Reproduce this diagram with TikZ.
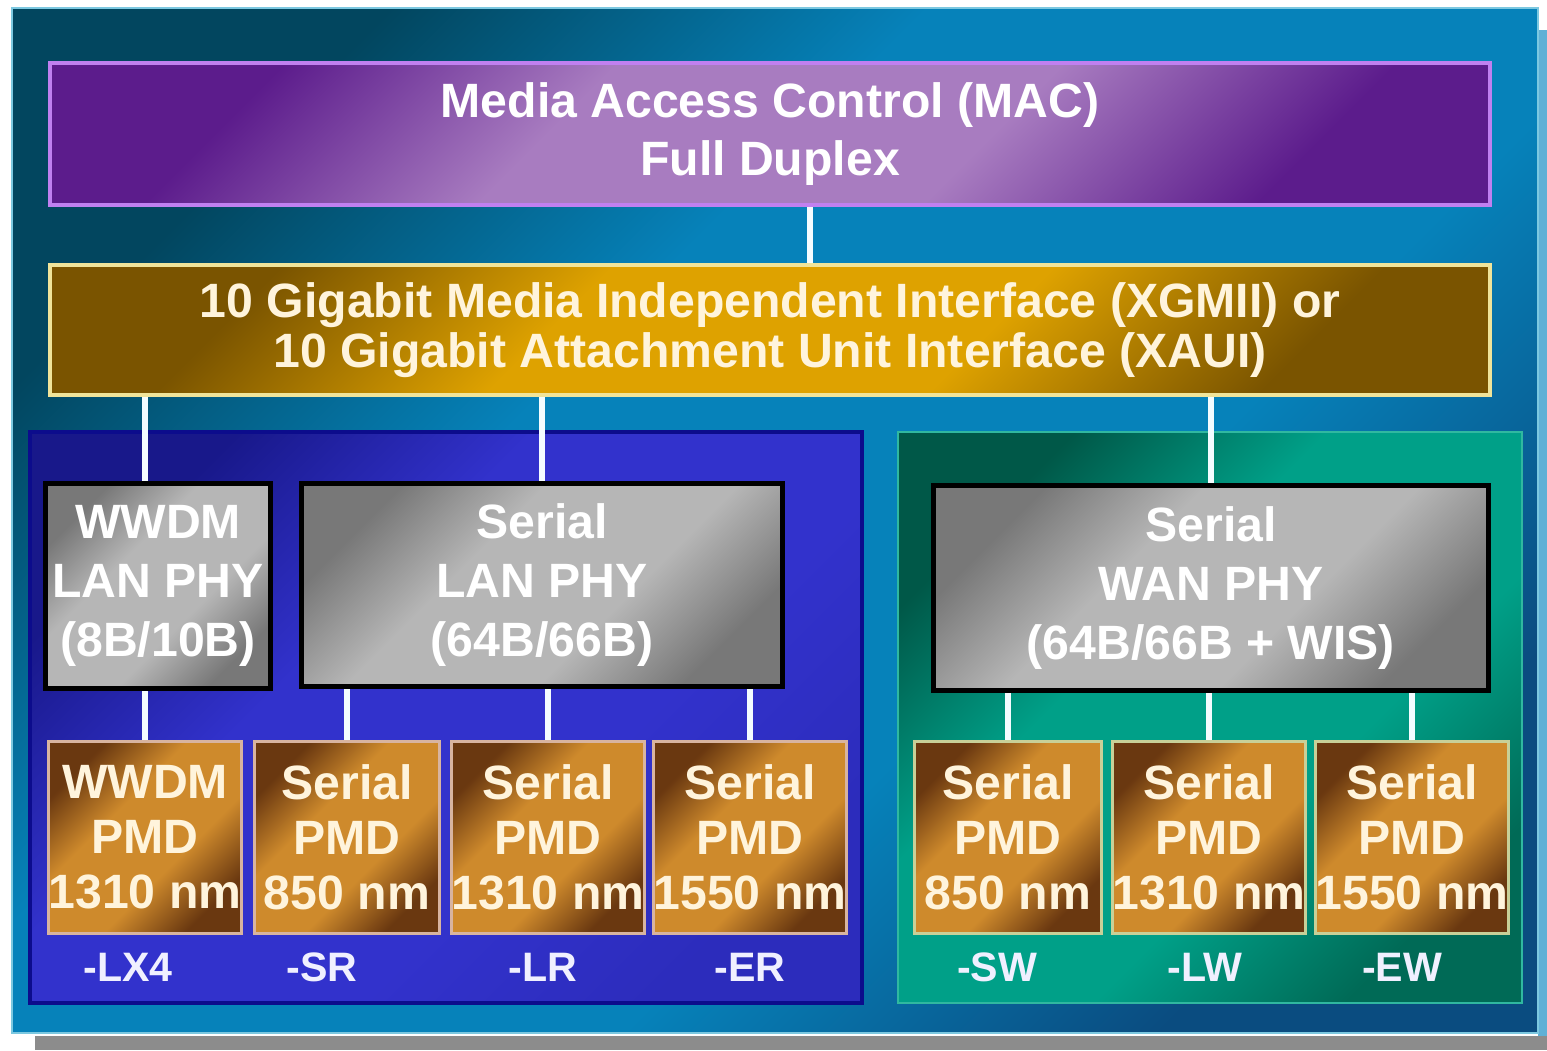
\documentclass[tikz,border=0pt]{standalone}
\usepackage{fontspec}
\setmainfont{Liberation Sans}
\usetikzlibrary{backgrounds}

\definecolor{paneldark}{HTML}{02465F}
\definecolor{panelmid}{HTML}{0682BA}
\definecolor{panellow}{HTML}{0A4C80}
\definecolor{panelrim}{HTML}{7CC8E0}
\definecolor{shadowgray}{HTML}{8C8C8C}
\definecolor{shadowblue}{HTML}{5FB0D6}
\definecolor{macdark}{HTML}{5C1C8C}
\definecolor{maclight}{HTML}{A87CC0}
\definecolor{macrim}{HTML}{C080F0}
\definecolor{golddark}{HTML}{7A5400}
\definecolor{goldmid}{HTML}{DEA200}
\definecolor{goldrim}{HTML}{F0E49A}
\definecolor{landark}{HTML}{18188A}
\definecolor{lanmid}{HTML}{3232CC}
\definecolor{lanlow}{HTML}{2C2CBC}
\definecolor{lanrim}{HTML}{0C0C8C}
\definecolor{wandark}{HTML}{005848}
\definecolor{wanmid}{HTML}{00A088}
\definecolor{wanlow}{HTML}{006A56}
\definecolor{wanrim}{HTML}{30B8A0}
\definecolor{phyedge}{HTML}{787878}
\definecolor{phymid}{HTML}{B6B6B6}
\definecolor{pmdedge}{HTML}{6A3810}
\definecolor{pmdmid}{HTML}{CE8A2C}
\definecolor{lanpmdrim}{HTML}{D8B4A0}
\definecolor{wanpmdrim}{HTML}{C8D098}
\definecolor{creamtext}{HTML}{FFF4DC}
\definecolor{tagtext}{HTML}{F0F0FF}
\definecolor{linkwhite}{HTML}{F4FCFF}

% diagonal glow: dark corners, broad light middle
\colorlet{gtop}{black}\colorlet{gmid}{white}\colorlet{gbot}{black}
\pgfdeclareverticalshading[gtop,gmid,gbot]{glow}{100bp}{color(0bp)=(gbot); color(25bp)=(gbot);
  color(40bp)=(gmid); color(60bp)=(gmid); color(75bp)=(gtop); color(100bp)=(gtop)}

\begin{document}
\begin{tikzpicture}[x=0.01cm, y=-0.01cm,
  glow/.style n args={3}{/utils/exec={\colorlet{gtop}{#1}\colorlet{gmid}{#2}\colorlet{gbot}{#3}},
    shade, shading=glow, shading angle=45},
  txt/.style={font=\bfseries\fontsize{13.7}{16.5}\selectfont, align=center, inner sep=0pt},
  phy/.style={txt, draw=black, line width=1.4pt, glow={phyedge}{phymid}{phyedge}, text=white,
    font=\bfseries\fontsize{13.7}{16.8}\selectfont},
  pmd/.style={txt, line width=0.85pt, glow={pmdedge}{pmdmid}{pmdedge}, text=creamtext,
    minimum height=1.91cm, font=\bfseries\fontsize{13.7}{15.6}\selectfont},
  tag/.style={font=\bfseries\fontsize{11.7}{14}\selectfont, text=tagtext, inner sep=0pt},
  link/.style={draw=linkwhite, line width=1.7pt}]
  \useasboundingbox (0,0) rectangle (1547,1050);
  % MAC and XGMII layers
  \node[txt, draw=macrim, line width=1.1pt, glow={macdark}{maclight}{macdark}, text=white,
    minimum width=14.4cm, minimum height=1.42cm] (mac) at (770,134)
    {Media Access Control (MAC)\\Full Duplex};
  \node[txt, draw=goldrim, line width=1.1pt, glow={golddark}{goldmid}{golddark}, text=creamtext,
    font=\bfseries\fontsize{13.7}{14.2}\selectfont,
    minimum width=14.4cm, minimum height=1.3cm] (xgmii) at (770,330)
    {10 Gigabit Media Independent Interface (XGMII) or\\10 Gigabit Attachment Unit Interface (XAUI)};
  % PHY boxes
  \node[phy, minimum width=2.24cm, minimum height=2.04cm] (wwdm) at (158,586) {WWDM\\LAN PHY\\(8B/10B)};
  \node[phy, minimum width=4.8cm, minimum height=2.02cm] (slan) at (542,585) {Serial\\LAN PHY\\(64B/66B)};
  \node[phy, minimum width=5.55cm, minimum height=2.05cm] (swan) at (1211,588) {Serial\\WAN PHY\\(64B/66B + WIS)};
  % PMD boxes and port names
  \foreach \pname/\px/\pw/\ptext/\plbl/\lx in {
      lx4/145/1.9/{WWDM\\PMD\\1310 nm}/-LX4/128,
      sr/347/1.85/{Serial\\PMD\\850 nm}/-SR/322,
      lr/548/1.84/{Serial\\PMD\\1310 nm}/-LR/543,
      er/750/1.86/{Serial\\PMD\\1550 nm}/-ER/750}{
    \node[pmd, draw=lanpmdrim, minimum width=\pw cm] (\pname) at (\px,837.5) {\ptext};
    \node[tag] (\pname lbl) at (\lx,967) {\plbl};
  }
  \foreach \pname/\px/\pw/\ptext/\plbl/\lx in {
      sw/1008/1.86/{Serial\\PMD\\850 nm}/-SW/997,
      lw/1209/1.85/{Serial\\PMD\\1310 nm}/-LW/1205,
      ew/1412/1.87/{Serial\\PMD\\1550 nm}/-EW/1402}{
    \node[pmd, draw=wanpmdrim, minimum width=\pw cm] (\pname) at (\px,837.5) {\ptext};
    \node[tag] (\pname lbl) at (\lx,967) {\plbl};
  }
  \begin{scope}[on background layer]
    % panel with drop shadow
    \fill[white] (0,0) rectangle (1547,1050);
    \fill[shadowgray] (35,1036) rectangle (1547,1050);
    \fill[shadowblue] (1538,30) rectangle (1547,1036);
    \path[draw=panelrim, line width=0.6pt, glow={paneldark}{panelmid}{panellow}]
      (12,8) rectangle (1538,1033);
    % LAN and WAN groups
    \node[draw=lanrim, line width=1.1pt, glow={landark}{lanmid}{lanlow},
      minimum width=8.32cm, minimum height=5.71cm] (lan) at (446,717.5) {};
    \node[draw=wanrim, line width=0.6pt, glow={wandark}{wanmid}{wanlow},
      minimum width=6.24cm, minimum height=5.71cm] (wan) at (1210,717.5) {};
    % links
    \draw[link] ([xshift=0.4cm]mac.south) -- ([xshift=0.4cm]xgmii.north);
    \draw[link] (xgmii.south -| lx4.north) -- (wwdm.north -| lx4.north);
    \draw[link] (xgmii.south -| slan.north) -- (slan.north);
    \draw[link] (xgmii.south -| swan.north) -- (swan.north);
    \draw[link] (lx4.north) -- (lx4.north |- wwdm.south);
    \foreach \p in {sr,lr,er} \draw[link] (\p.north) -- (\p.north |- slan.south);
    \foreach \p in {sw,lw,ew} \draw[link] (\p.north) -- (\p.north |- swan.south);
  \end{scope}
\end{tikzpicture}
\end{document}
